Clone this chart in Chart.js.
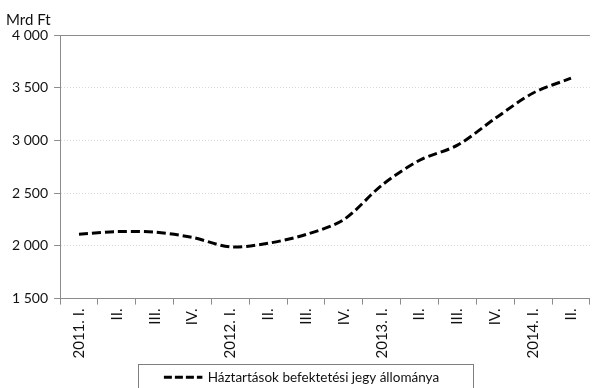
<!DOCTYPE html>
<html>
<head>
<meta charset="utf-8">
<script src="https://cdn.jsdelivr.net/npm/chart.js@4/dist/chart.umd.min.js"></script>
<style>
  html, body { margin: 0; padding: 0; background: #fff; }
  #wrap { width: 593px; height: 388px; position: relative; }
</style>
</head>
<body>
<div id="wrap"><canvas id="c"></canvas></div>
<script>
// Quarterly labels (year shown at each Q1)
const quarters = ['2011. I.', 'II.', 'III.', 'IV.', '2012. I.', 'II.', 'III.', 'IV.',
                  '2013. I.', 'II.', 'III.', 'IV.', '2014. I.', 'II.'];
// Household investment fund holdings, billion HUF
const holdings = [2110, 2135, 2130, 2080, 1990, 2025, 2108, 2250,
                  2575, 2812, 2955, 3210, 3450, 3590];
const seriesName = 'Háztartások befektetési jegy állománya';
const unitLabel = 'Mrd Ft';
const yTicks = [1500, 2000, 2500, 3000, 3500, 4000];

const FONT = 'Lato, "Open Sans", sans-serif';
const AXIS_GREY = '#8c8c8c';
const TEXT = '#111';

// Thousands with a space separator: 4 000
const fmt = v => String(v).replace(/\B(?=(\d{3})+(?!\d))/g, ' ');

// Solid line along the top of the plot and a frame round the legend
const framePlugin = {
  id: 'frame',
  afterDraw(chart) {
    const { ctx, chartArea } = chart;
    ctx.save();
    ctx.strokeStyle = AXIS_GREY;
    ctx.lineWidth = 1;
    ctx.beginPath();
    ctx.moveTo(chartArea.left, Math.round(chartArea.top) + 0.5);
    ctx.lineTo(chartArea.right, Math.round(chartArea.top) + 0.5);
    ctx.stroke();
    const hb = chart.legend.legendHitBoxes[0];
    if (hb) {
      const l = Math.round(hb.left - 26) + 0.5;
      const r = Math.round(hb.left + hb.width + 34) + 0.5;
      const t = Math.round(hb.top + hb.height / 2 - 13) + 0.5;
      ctx.strokeStyle = '#7f7f7f';
      ctx.strokeRect(l, t, r - l, 40);
    }
    ctx.restore();
  }
};

new Chart(document.getElementById('c'), {
  type: 'line',
  data: {
    labels: quarters,
    datasets: [{
      label: seriesName,
      data: holdings,
      borderColor: '#000',
      backgroundColor: 'rgba(0,0,0,0)',
      borderWidth: 3,
      borderDash: [9, 4],
      borderCapStyle: 'butt',
      tension: 0.3,
      pointRadius: 0,
      fill: false
    }]
  },
  options: {
    responsive: true,
    maintainAspectRatio: false,
    animation: false,
    layout: { padding: { left: 6, right: -4, top: 8, bottom: -6 } },
    plugins: {
      title: {
        display: true,
        text: unitLabel,
        align: 'start',
        color: TEXT,
        font: { family: FONT, size: 15, weight: 'normal' },
        padding: { top: 3, bottom: 6 }
      },
      legend: {
        position: 'bottom',
        labels: {
          boxWidth: 37,
          boxHeight: 0.01,
          color: TEXT,
          font: { family: FONT, size: 13.5 },
          padding: 8,
          // legend swatch: short dashes ending in a dot
          generateLabels(chart) {
            const items = Chart.defaults.plugins.legend.labels.generateLabels(chart);
            return items.map(it => Object.assign(it, { lineDash: [8, 3], lineCap: 'butt' }));
          }
        }
      },
      tooltip: { enabled: false }
    },
    scales: {
      x: {
        offset: true,
        grid: {
          offset: true,
          drawOnChartArea: false,
          drawTicks: true,
          tickLength: 6,
          tickColor: AXIS_GREY
        },
        border: { color: AXIS_GREY, width: 1 },
        ticks: {
          autoSkip: false,
          minRotation: 90,
          maxRotation: 90,
          color: TEXT,
          padding: 4,
          font: { family: FONT, size: 15 }
        }
      },
      y: {
        min: 1500,
        max: 4000,
        afterBuildTicks(scale) { scale.ticks = yTicks.map(v => ({ value: v })); },
        grid: {
          color: '#d9d9d9',
          tickColor: AXIS_GREY,
          tickLength: 6,
          tickBorderDash: []
        },
        border: { color: AXIS_GREY, width: 1, dash: [1, 2] },
        ticks: {
          color: TEXT,
          padding: 6,
          font: { family: FONT, size: 14 },
          callback: v => fmt(v)
        }
      }
    }
  },
  plugins: [framePlugin]
});
</script>
</body>
</html>
